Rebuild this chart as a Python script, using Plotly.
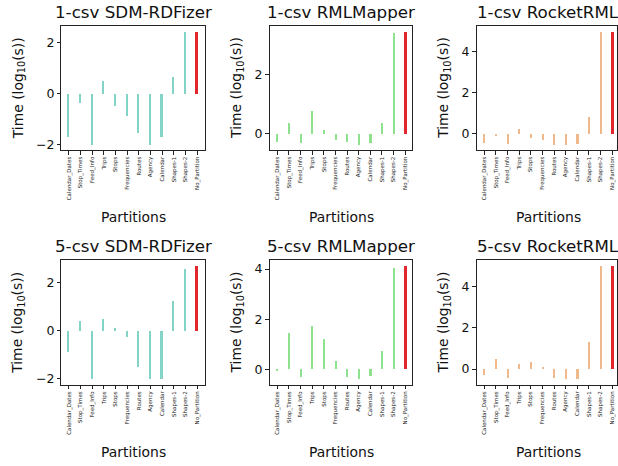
import plotly.graph_objects as go

partitions = ["Calendar_Dates", "Stop_Times", "Feed_Info", "Trips", "Stops",
              "Frequencies", "Routes", "Agency", "Calendar", "Shapes-1",
              "Shapes-2", "No_Partition"]

sdm_1csv = [-1.68, -0.35, -2.00, 0.52, -0.48, -0.87, -1.52, -2.00, -1.68, 0.69, 2.43, 2.46]
rml_1csv = [-0.28, 0.37, -0.31, 0.77, 0.13, -0.19, -0.28, -0.36, -0.31, 0.37, 3.42, 3.47]
rocket_1csv = [-0.42, -0.06, -0.46, 0.26, -0.18, -0.27, -0.50, -0.51, -0.46, 0.82, 4.99, 4.99]
sdm_5csv = [-0.89, 0.40, -2.00, 0.49, 0.11, -0.26, -1.53, -2.00, -2.00, 1.24, 2.57, 2.69]
rml_5csv = [-0.05, 1.46, -0.32, 1.72, 1.22, 0.32, -0.29, -0.38, -0.26, 0.74, 4.04, 4.13]
rocket_5csv = [-0.30, 0.48, -0.43, 0.26, 0.32, 0.06, -0.45, -0.48, -0.47, 1.30, 5.00, 5.00]

titles = ["1-csv SDM-RDFizer", "1-csv RMLMapper", "1-csv RocketRML",
          "5-csv SDM-RDFizer", "5-csv RMLMapper", "5-csv RocketRML"]
series = [sdm_1csv, rml_1csv, rocket_1csv, sdm_5csv, rml_5csv, rocket_5csv]
engine_colors = ["#83d4c6", "#8ee28e", "#efb98c"]
baseline_color = "#e3262b"

W, H = 618, 466
col_px = [(61.5, 205.0), (270.0, 412.7), (477.3, 618.0)]
row_px = [(25.7, 150.7), (261.3, 386.3)]
px_per_cat = 11.67
ylabel_shift = [-43, -32.5, -32.5]

FONT = "DejaVu Sans"
fig = go.Figure()
annotations = []

for i, (title, vals) in enumerate(zip(titles, series)):
    r, c = divmod(i, 3)
    n = i + 1
    xa = "x" if n == 1 else f"x{n}"
    ya = "y" if n == 1 else f"y{n}"
    colors = [engine_colors[c]] * (len(partitions) - 1) + [baseline_color]
    fig.add_trace(go.Bar(x=partitions, y=vals, width=0.14,
                         marker=dict(color=colors, line=dict(width=0)),
                         xaxis=xa, yaxis=ya, showlegend=False))
    x0p, x1p = col_px[c]
    y0p, y1p = row_px[r]
    xd = [x0p / W, x1p / W]
    yd = [1 - y1p / H, 1 - y0p / H]
    lo, hi = min(min(vals), 0), max(max(vals), 0)
    pad = 0.05 * (hi - lo)
    xr0 = -0.65
    xr1 = xr0 + (x1p - x0p) / px_per_cat
    axis_common = dict(showline=True, mirror=True, linecolor="#222", linewidth=1,
                       ticks="outside", ticklen=3.5, tickwidth=0.8, tickcolor="#222",
                       showgrid=False, zeroline=False)
    fig.update_layout({
        ("xaxis" if n == 1 else f"xaxis{n}"): dict(
            domain=xd, anchor=ya, type="category", range=[xr0, xr1],
            tickangle=-90, tickfont=dict(family=FONT, size=5.5, color="#222"),
            **axis_common),
        ("yaxis" if n == 1 else f"yaxis{n}"): dict(
            domain=yd, anchor=xa, range=[lo - pad, hi + pad], dtick=2,
            tickfont=dict(family=FONT, size=12.5, color="#111"),
            **axis_common),
    })
    box_w = 143.5
    xc = ((x0p + x0p + box_w) / 2) / W
    annotations.append(dict(text=title, x=xc, y=yd[1], xref="paper", yref="paper",
                            xanchor="center", yanchor="bottom", yshift=2,
                            showarrow=False, font=dict(family=FONT, size=16.7, color="#111")))
    annotations.append(dict(text="Partitions", x=xc,
                            y=yd[0], xref="paper", yref="paper",
                            xanchor="center", yanchor="middle", yshift=-67,
                            showarrow=False, font=dict(family=FONT, size=13.9, color="#111")))
    annotations.append(dict(text="Time (log<sub>10</sub>(s))", x=xd[0], y=(yd[0] + yd[1]) / 2,
                            xref="paper", yref="paper", xanchor="center", yanchor="middle",
                            xshift=ylabel_shift[c], textangle=-90, showarrow=False,
                            font=dict(family=FONT, size=13.9, color="#111")))

fig.update_layout(width=W, height=H, margin=dict(l=0, r=0, t=0, b=0),
                  plot_bgcolor="white", paper_bgcolor="white",
                  annotations=annotations, bargap=0)
fig.write_html("out.html")
